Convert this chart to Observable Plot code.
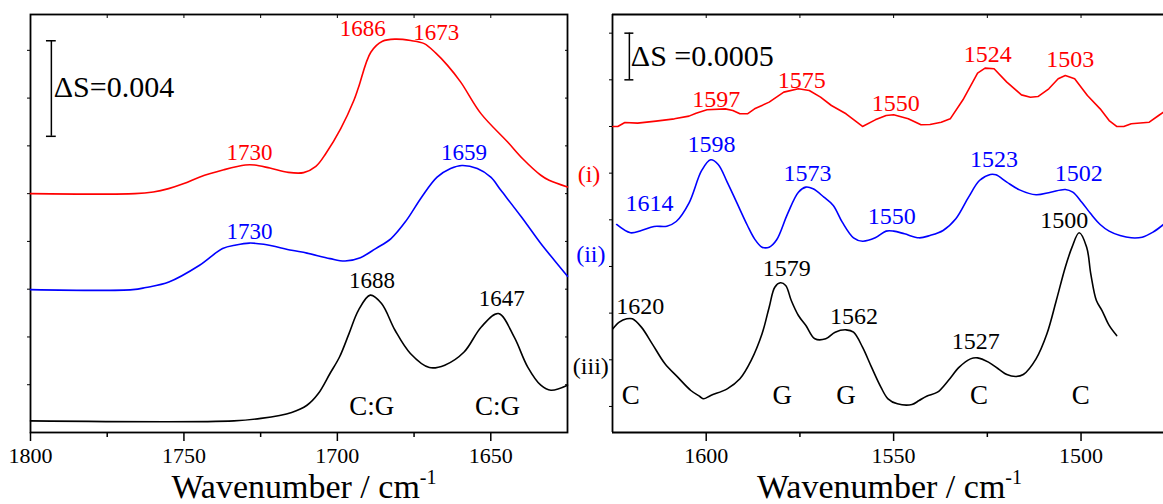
<!DOCTYPE html>
<html><head><meta charset="utf-8">
<script src="https://cdn.jsdelivr.net/npm/d3@7"></script>
<script src="https://cdn.jsdelivr.net/npm/@observablehq/plot@0.6"></script>
<style>
body{margin:0;background:#fff;}
#wrap{position:relative;width:1163px;height:504px;overflow:hidden;background:#fff;}
#left,#right{position:absolute;top:0;}
#left{left:0;}
#right{left:580px;}
svg{overflow:visible;}
svg text{font-family:"Liberation Serif","Times New Roman",serif !important;}
</style></head><body><div id="wrap"><div id="left"></div><div id="right"></div></div>
<script>
// ---------- LEFT PANEL (1800–1625 cm-1), ΔS in units of 1e-3 ----------
const leftWn_i = [1800,1766,1760,1755,1750,1745,1737,1730,1727,1722,1716,1711,1707,1703.8,1698.9,1694.6,1693.1,1689.1,1685.3,1681,1676.1,1671.7,1667.9,1664.1,1659.8,1653.2,1644.5,1639.6,1633.7,1631,1625];
const leftS_i  = [10.0,10.0,10.07,10.21,10.42,10.69,11.0,11.2,11.2,11.07,10.89,10.88,11.14,11.67,12.72,13.91,14.45,15.92,16.38,16.47,16.41,16.28,15.88,15.37,14.67,13.35,12.16,11.46,10.77,10.56,10.28];
const leftWn_ii = [1800,1766.7,1762.4,1754.9,1744.9,1737.4,1733,1728.7,1724,1714.9,1709.9,1702.4,1697.5,1692.5,1687.5,1682.5,1677.5,1672.5,1667.5,1663.1,1659.4,1654.4,1650,1646.7,1640,1633.7,1629.3,1625];
const leftS_ii  = [5.98,5.98,6.07,6.30,7.0,7.70,7.85,7.93,7.88,7.63,7.51,7.28,7.18,7.32,7.70,8.12,8.88,9.86,10.69,11.05,11.18,11.05,10.69,10.14,9.02,7.91,7.21,6.54];
const leftWn_iii = [1800,1733.7,1724.9,1714.9,1709.9,1706.2,1702.4,1699.3,1696.2,1693.1,1689.3,1685.6,1681.2,1676.2,1670,1665,1658.7,1653.1,1647.5,1642.4,1638,1633.7,1630.4,1625];
const leftS_iii  = [0.485,0.485,0.59,0.84,1.14,1.63,2.47,3.16,4.14,5.12,5.75,5.40,4.28,3.31,2.72,2.82,3.37,4.42,4.98,4.0,2.75,1.98,1.77,1.98];

const leftPeakText   = ["1686","1673","1730","1659","1730","1688","1647"];
const leftPeakWn     = [1691.7,1667.8,1728.6,1658.7,1728.6,1688.7,1646.4];
const leftPeakS      = [16.62,16.44,11.39,11.42,8.12,6.03,5.31];
const leftPeakSeries = ["i","i","i","ii","ii","iii","iii"];
const leftAssignText = ["C:G","C:G"];
const leftAssignWn   = [1688.8,1647.8];
const leftAssignS    = [0.75,0.75];
const leftTagText    = ["(i)","(ii)","(iii)"];
const leftTagWn      = [1618,1617.4,1617.4];
const leftTagS       = [10.49,7.14,2.47];
const leftBarWn = 1793.2, leftBarFrom = 12.4, leftBarTo = 16.4;
const leftBarText = "ΔS=0.004", leftBarTextWn = 1792.4, leftBarTextS = 14.04;

const leftTicksMajor = [1800,1750,1700,1650];
const leftTicksMinor = [1775,1725,1675];
const leftTicksTop   = [1775,1750,1725,1700,1675,1650];
const leftYTicks     = [2,4,6,8,10,12,14,16];

// ---------- RIGHT PANEL (1625–1478 cm-1), ΔS in units of 1e-4 ----------
const rightWn_i = [1624.9,1623.6,1621.7,1618.3,1613.4,1608.5,1604.6,1602.7,1599.8,1594.9,1592.9,1591.0,1589.0,1587.1,1583.2,1579.3,1575.4,1572.5,1569.5,1566.6,1562.7,1558.3,1554.9,1552.0,1550.0,1546.1,1542.7,1540.3,1537.3,1534.9,1531.5,1527.6,1525.6,1523.2,1519.8,1515.9,1513.5,1511.5,1508.6,1506.1,1504.2,1501.7,1498.3,1494.9,1492.5,1490.5,1488.6,1486.6,1481.8,1479.3,1478.0];
const rightS_i  = [35.0,35.0,35.43,35.36,35.57,35.82,36.11,36.43,36.79,36.89,36.71,36.36,36.36,36.89,37.61,38.68,39.04,38.86,38.14,37.25,36.36,35.0,35.71,36.18,36.25,35.82,35.18,35.21,35.46,35.82,37.86,40.71,41.25,41.18,39.75,38.39,38.14,38.21,39.04,40.11,40.46,40.11,38.32,36.89,35.64,35.0,35.0,35.29,35.46,36.18,36.54];
const rightWn_ii = [1623.9,1620.2,1617.3,1613.9,1610.5,1608.0,1604.6,1601.2,1598.8,1596.8,1594.4,1591.9,1589.0,1587.1,1585.1,1583.2,1581.2,1578.3,1575.4,1573.4,1571.5,1568.6,1566.1,1563.7,1560.7,1558.3,1554.9,1552.0,1550.0,1547.1,1543.2,1540.3,1536.8,1533.4,1530.0,1527.1,1524.2,1522.7,1519.8,1516.4,1512.0,1508.1,1504.2,1502.2,1499.8,1497.4,1494.9,1492.5,1489.6,1486.6,1483.7,1480.8,1478.0];
const rightS_ii  = [24.5,23.61,23.86,24.29,24.32,24.82,26.79,30.29,31.43,30.93,29.04,26.89,24.39,22.96,22.07,22.07,22.86,25.64,27.96,28.5,28.32,27.43,26.54,24.75,23.07,22.71,23.07,23.79,23.79,23.5,23.07,23.32,23.86,25.11,27.43,29.21,29.86,29.82,29.04,28.21,27.68,27.96,28.25,27.96,26.89,25.64,24.5,23.79,23.32,23.07,23.14,23.68,24.5];
const rightWn_iii = [1624.9,1623.2,1621.2,1619.7,1617.3,1614.4,1611.0,1607.6,1604.1,1601.7,1600.7,1598.8,1594.4,1591.0,1588.0,1585.1,1583.2,1581.7,1580.2,1578.8,1577.3,1575.4,1573.4,1571.0,1568.1,1565.6,1562.7,1560.7,1558.3,1555.9,1553.4,1551.5,1549.0,1545.1,1543.2,1541.2,1538.3,1535.4,1532.5,1529.5,1527.6,1524.7,1521.7,1519.8,1517.4,1515.4,1512.0,1509.1,1506.6,1504.2,1502.4,1500.5,1498.5,1497.4,1495.9,1494.4,1492.5,1490.5];
const rightS_iii  = [13.32,14.03,14.39,14.39,13.5,11.71,9.57,8.14,6.71,6.07,5.82,6.18,6.89,7.96,9.93,12.78,15.64,17.78,18.25,17.96,16.35,14.75,13.68,12.25,12.25,12.96,13.21,12.96,11.35,9.21,7.07,5.82,5.28,5.21,5.64,6.10,6.53,7.78,9.21,10.10,10.21,9.75,8.92,8.42,8.21,8.42,10.10,12.78,16.35,19.92,22.07,23.61,22.07,19.21,16.35,15.28,13.68,12.60];

const rightPeakText   = ["1597","1575","1550","1524","1503","1614","1598","1573","1550","1523","1502","1620","1579","1562","1527","1500"];
const rightPeakWn     = [1597.3,1574.5,1549.4,1524.9,1502.9,1615.1,1598.6,1573.0,1550.5,1523.2,1500.6,1617.6,1578.5,1560.6,1528.1,1504.5];
const rightPeakS      = [37.14,39.14,36.64,41.89,41.35,25.92,32.24,29.11,24.57,30.71,29.14,14.93,19.03,13.79,11.11,24.10];
const rightPeakSeries = ["i","i","i","i","i","ii","ii","ii","ii","ii","ii","iii","iii","iii","iii","iii"];
const rightAssignText = ["C","G","G","C","C"];
const rightAssignWn   = [1620.1,1579.7,1562.7,1527.2,1500.1];
const rightAssignS    = [5.27,5.27,5.27,5.27,5.27];
const rightBarWn = 1620.5, rightBarFrom = 40, rightBarTo = 45;
const rightBarText = "ΔS =0.0005", rightBarTextWn = 1620.1, rightBarTextS = 41.53;

const rightTicksMajor = [1600,1550,1500];
const rightTicksMinor = [1575,1525];
const rightTicksTop   = [1600,1575,1550,1525,1500];
const rightYTicks     = [5,10,15,20,25,30,35,40,45];

// ---------- drawing ----------
const serif = "'Liberation Serif', 'Times New Roman', serif";
const seriesColor = {i: "#ff0000", ii: "#0000ff", iii: "#000000"};
const pts = (xs, ys) => xs.map((x, i) => ({x, y: ys[i]}));
const labs = (t, xs, ys, ser) => t.map((s, i) => ({text: s, x: xs[i], y: ys[i], color: ser ? seriesColor[ser[i]] : "#000000"}));
const blank = () => "";

function axesMarks(major, minor, top, yt, withRight) {
  const m = [
    Plot.axisY(yt, {anchor: "left", tickSize: 3, tickFormat: blank, label: null}),
    Plot.axisX(top, {anchor: "top", tickSize: -3, tickFormat: blank, label: null}),
    Plot.axisX(minor, {anchor: "bottom", tickSize: 5, tickFormat: blank, label: null, strokeWidth: 1.5}),
    Plot.axisX(major, {anchor: "bottom", tickSize: 9, tickPadding: 6, tickFormat: d => String(d), label: null, fontSize: 22, fontFamily: serif, strokeWidth: 1.5})
  ];
  if (withRight) m.push(Plot.axisY(yt, {anchor: "right", tickSize: -3, tickFormat: blank, label: null}));
  return m;
}
const lineOpts = (c, curve) => ({x: "x", y: "y", stroke: c, strokeWidth: 1.6, curve});

const leftPlot = Plot.plot({
  width: 612, height: 504,
  marginLeft: 30, marginRight: 45, marginTop: 14, marginBottom: 72,
  x: {domain: [1800, 1625]},
  y: {domain: [0, 17.5]},
  color: {type: "identity"},
  style: {fontFamily: serif, fontSize: "22px", background: "transparent", overflow: "visible", color: "black"},
  marks: [
    ...axesMarks(leftTicksMajor, leftTicksMinor, leftTicksTop, leftYTicks, true),
    Plot.frame({stroke: "black", strokeWidth: 1.8}),
    Plot.line(pts(leftWn_i, leftS_i), lineOpts(seriesColor.i, "catmull-rom")),
    Plot.line(pts(leftWn_ii, leftS_ii), lineOpts(seriesColor.ii, "catmull-rom")),
    Plot.line(pts(leftWn_iii, leftS_iii), lineOpts(seriesColor.iii, "catmull-rom")),
    Plot.ruleX([leftBarWn], {y1: leftBarFrom, y2: leftBarTo, stroke: "black", strokeWidth: 1.5}),
    Plot.ruleY([leftBarFrom, leftBarTo], {x1: leftBarWn + 1.6, x2: leftBarWn - 1.6, stroke: "black", strokeWidth: 1.5}),
    Plot.text([leftBarText], {x: leftBarTextWn, y: leftBarTextS, text: d => d, textAnchor: "start", lineAnchor: "bottom", fontSize: 30, fontFamily: serif, fill: "black"}),
    Plot.text(labs(leftPeakText, leftPeakWn, leftPeakS, leftPeakSeries), {x: "x", y: "y", text: "text", fill: "color", textAnchor: "middle", lineAnchor: "bottom", fontSize: 23, fontFamily: serif}),
    Plot.text(labs(leftAssignText, leftAssignWn, leftAssignS), {x: "x", y: "y", text: "text", fill: "color", textAnchor: "middle", lineAnchor: "bottom", fontSize: 27, fontFamily: serif}),
    Plot.text(labs(leftTagText, leftTagWn, leftTagS, ["i","ii","iii"]), {x: "x", y: "y", text: "text", fill: "color", textAnchor: "middle", lineAnchor: "bottom", fontSize: 24, fontFamily: serif})
  ]
});

const rDomain = [2.21, 47.0];
const rightPlot = Plot.plot({
  width: 583, height: 504,
  marginLeft: 32, marginRight: 0, marginTop: 14, marginBottom: 72,
  x: {domain: [1625, 1478]},
  y: {domain: rDomain},
  color: {type: "identity"},
  style: {fontFamily: serif, fontSize: "22px", background: "transparent", overflow: "visible", color: "black"},
  marks: [
    ...axesMarks(rightTicksMajor, rightTicksMinor, rightTicksTop, rightYTicks, false),
    Plot.ruleX([1625], {stroke: "black", strokeWidth: 1.8}),
    Plot.ruleY(rDomain, {stroke: "black", strokeWidth: 1.8}),
    Plot.line(pts(rightWn_i, rightS_i), lineOpts(seriesColor.i, "linear")),
    Plot.line(pts(rightWn_ii, rightS_ii), lineOpts(seriesColor.ii, "catmull-rom")),
    Plot.line(pts(rightWn_iii, rightS_iii), lineOpts(seriesColor.iii, "catmull-rom")),
    Plot.ruleX([rightBarWn], {y1: rightBarFrom, y2: rightBarTo, stroke: "black", strokeWidth: 1.5}),
    Plot.ruleY([rightBarFrom, rightBarTo], {x1: rightBarWn + 1.2, x2: rightBarWn - 1.2, stroke: "black", strokeWidth: 1.5}),
    Plot.text([rightBarText], {x: rightBarTextWn, y: rightBarTextS, text: d => d, textAnchor: "start", lineAnchor: "bottom", fontSize: 30, fontFamily: serif, fill: "black"}),
    Plot.text(labs(rightPeakText, rightPeakWn, rightPeakS, rightPeakSeries), {x: "x", y: "y", text: "text", fill: "color", textAnchor: "middle", lineAnchor: "bottom", fontSize: 24, fontFamily: serif}),
    Plot.text(labs(rightAssignText, rightAssignWn, rightAssignS), {x: "x", y: "y", text: "text", fill: "color", textAnchor: "middle", lineAnchor: "bottom", fontSize: 27, fontFamily: serif})
  ]
});

function addTitle(svg, cx) {
  const t = d3.select(svg).append("text")
    .attr("x", cx).attr("y", 498)
    .attr("text-anchor", "middle")
    .attr("font-family", serif).attr("font-size", 34).attr("fill", "black");
  t.append("tspan").text("Wavenumber / cm");
  t.append("tspan").attr("dy", -14).attr("font-size", 20).text("-1");
}
document.getElementById("left").appendChild(leftPlot);
document.getElementById("right").appendChild(rightPlot);
addTitle(leftPlot, 304);
addTitle(rightPlot, 309.5);
</script>
</body></html>
